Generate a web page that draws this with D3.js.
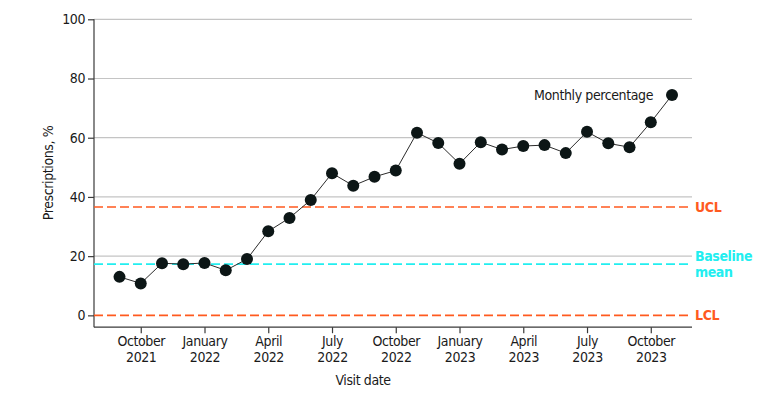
<!DOCTYPE html>
<html>
<head>
<meta charset="utf-8">
<script src="https://cdn.jsdelivr.net/npm/d3@7"></script>
<style>
  body { margin: 0; background: #fff; }
  svg text { font-family: "DejaVu Sans", sans-serif; font-stretch: condensed; letter-spacing: -0.4px; }
</style>
</head>
<body>
<svg id="chart"></svg>
<script>
// Monthly values, September 2021 to November 2023
const months = ["Sep 2021", "Oct 2021", "Nov 2021", "Dec 2021", "Jan 2022", "Feb 2022", "Mar 2022",
  "Apr 2022", "May 2022", "Jun 2022", "Jul 2022", "Aug 2022", "Sep 2022", "Oct 2022", "Nov 2022",
  "Dec 2022", "Jan 2023", "Feb 2023", "Mar 2023", "Apr 2023", "May 2023", "Jun 2023", "Jul 2023",
  "Aug 2023", "Sep 2023", "Oct 2023", "Nov 2023"];
const percentages = [13.0, 10.8, 17.6, 17.3, 17.7, 15.2, 19.0, 28.4, 32.9, 39.0, 48.0, 43.8, 46.8,
  48.9, 61.7, 58.2, 51.2, 58.5, 56.0, 57.2, 57.5, 54.8, 62.0, 58.1, 56.8, 65.2, 74.4];

// x tick labels (every quarter)
const tickMonths = ["Oct 2021", "Jan 2022", "Apr 2022", "Jul 2022", "Oct 2022", "Jan 2023", "Apr 2023", "Jul 2023", "Oct 2023"];
const tickLabels = [["October", "2021"], ["January", "2022"], ["April", "2022"], ["July", "2022"], ["October", "2022"],
  ["January", "2023"], ["April", "2023"], ["July", "2023"], ["October", "2023"]];
const yTicks = [0, 20, 40, 60, 80, 100];

// control limits
const limitNames = ["UCL", "Baseline mean", "LCL"];
const limitValues = [36.6, 17.3, 0];

const width = 780, height = 398;
const margin = {top: 19, bottom: 71, left: 94, right: 88};
const fontSize = "14px";

const svg = d3.select("#chart")
  .attr("width", width)
  .attr("height", height);

const x = d3.scaleLinear()
  .domain([-1.2, months.length - 0.06])
  .range([margin.left, width - margin.right]);

const y = d3.scaleLinear()
  .domain([-4, 100])
  .range([327.2, margin.top + 0.3]);

const idx = m => months.indexOf(m);

// gridlines
svg.append("g")
  .selectAll("line")
  .data(yTicks.filter(d => d > 0))
  .enter().append("line")
  .attr("x1", margin.left)
  .attr("x2", width - margin.right)
  .attr("y1", d => y(d))
  .attr("y2", d => y(d))
  .attr("stroke", "#c4c4c4")
  .attr("stroke-width", 1.2);

// y axis
const yAxis = svg.append("g")
  .attr("transform", `translate(${margin.left},0)`)
  .call(d3.axisLeft(y).tickValues(yTicks).tickSize(6).tickPadding(3));
yAxis.select(".domain").attr("d", `M0,${y(100)}V${y(-4)}`);

// x axis
const xAxis = svg.append("g")
  .attr("transform", `translate(0,${y(-4)})`)
  .call(d3.axisBottom(x).tickValues(tickMonths.map(idx)).tickSize(6).tickFormat(""));
xAxis.select(".domain").attr("d", `M${margin.left},0H${width - margin.right}`);

[yAxis, xAxis].forEach(a => {
  a.selectAll(".domain, .tick line").attr("stroke", "#3a3a3a").attr("stroke-width", 1.2);
  a.selectAll("text").style("font-size", fontSize).attr("fill", "#1a1a1a");
});

// two-line tick labels
xAxis.selectAll(".tick").each(function(d, i) {
  const t = d3.select(this).append("text")
    .attr("text-anchor", "middle")
    .attr("fill", "#1a1a1a")
    .style("font-size", fontSize);
  t.append("tspan").attr("x", 0).attr("y", 19).text(tickLabels[i][0]);
  t.append("tspan").attr("x", 0).attr("y", 35).text(tickLabels[i][1]);
});

// axis titles
svg.append("text")
  .attr("text-anchor", "middle")
  .attr("transform", "rotate(-90)")
  .attr("x", -173)
  .attr("y", 53)
  .style("font-size", fontSize)
  .attr("fill", "#1a1a1a")
  .text("Prescriptions, %");

svg.append("text")
  .attr("text-anchor", "middle")
  .attr("x", 363)
  .attr("y", 385)
  .style("font-size", fontSize)
  .attr("fill", "#1a1a1a")
  .text("Visit date");

// control limit lines
const limitColor = d3.scaleOrdinal().domain(limitNames).range(["#ff5a1f", "#22eef0", "#ff5a1f"]);

svg.append("g")
  .selectAll("line")
  .data(limitNames)
  .enter().append("line")
  .attr("x1", margin.left)
  .attr("x2", width - margin.right)
  .attr("y1", (d, i) => y(limitValues[i]))
  .attr("y2", (d, i) => y(limitValues[i]))
  .attr("stroke", d => limitColor(d))
  .attr("stroke-width", 1.6)
  .attr("stroke-dasharray", "9,4");

// limit labels
limitNames.forEach((name, i) => {
  const words = name === "Baseline mean" ? ["Baseline", "mean"] : [name];
  const t = svg.append("text")
    .attr("fill", limitColor(name))
    .style("font-size", fontSize)
    .style("font-weight", "bold");
  words.forEach((w, j) => {
    t.append("tspan")
      .attr("x", width - margin.right + 3)
      .attr("y", y(limitValues[i]) + 5 - (words.length - 1) * 8 + j * 16)
      .text(w);
  });
});

// series line
const line = d3.line()
  .x((d, i) => x(i))
  .y(d => y(d));

svg.append("path")
  .datum(percentages)
  .attr("fill", "none")
  .attr("stroke", "#2b2b2b")
  .attr("stroke-width", 1)
  .attr("d", line);

svg.append("g")
  .selectAll("circle")
  .data(percentages)
  .enter().append("circle")
  .attr("cx", (d, i) => x(i))
  .attr("cy", d => y(d))
  .attr("r", 6)
  .attr("fill", "#0c1616");

// series label
svg.append("text")
  .attr("text-anchor", "end")
  .attr("x", x(percentages.length - 1) - 19)
  .attr("y", y(percentages[percentages.length - 1]) + 5)
  .style("font-size", fontSize)
  .attr("fill", "#1a1a1a")
  .text("Monthly percentage");
</script>
</body>
</html>
